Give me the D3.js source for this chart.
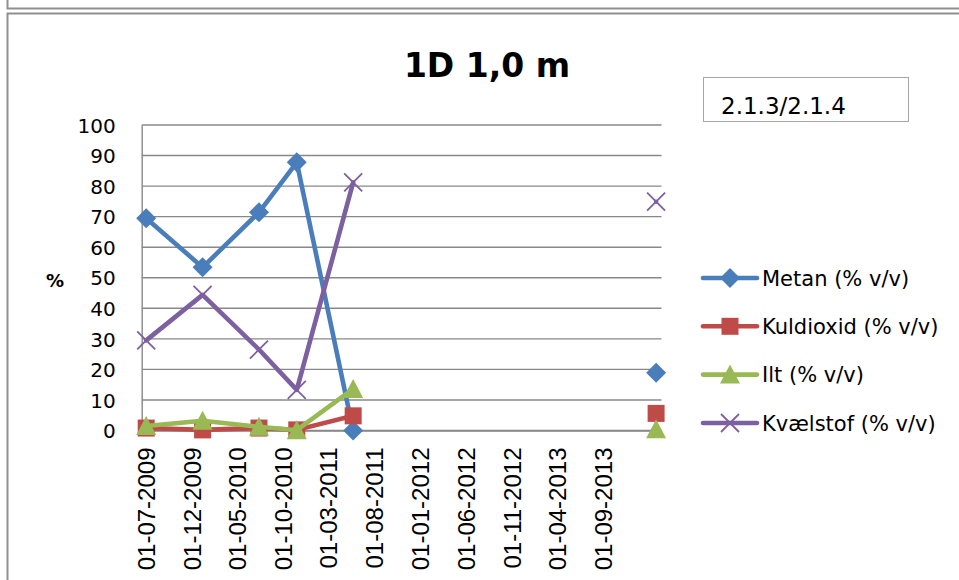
<!DOCTYPE html>
<html>
<head>
<meta charset="utf-8">
<script src="https://cdn.jsdelivr.net/npm/d3@7"></script>
<style>
  html, body { margin: 0; padding: 0; background: #fff; }
  svg { display: block; }
</style>
</head>
<body>
<svg id="chart" width="959" height="580"></svg>
<script>
// Sampling dates (null = blank row in the sheet, which breaks the lines)
const sampleDates = ["2009-07-02", "2010-01-06", "2010-07-13", "2010-11-16", "2011-05-23", null, "2014-02-26"];

// Gas concentrations, % v/v
const metan     = [69.5, 53.4, 71.4, 87.8, 0.0, null, 18.9];
const kuldioxid = [0.8, 0.2, 0.8, 0.2, 4.8, null, 5.6];
const ilt       = [1.5, 3.2, 1.2, 0.1, 13.6, null, 0.4];
const kvaelstof = [29.5, 44.4, 26.5, 13.3, 81.2, null, 74.9];

const seriesNames = ["Metan (% v/v)", "Kuldioxid (% v/v)", "Ilt (% v/v)", "Kvælstof (% v/v)"];
const seriesColors = ["#4A7EBB", "#BE4B48", "#98B954", "#7D60A0"];
const seriesMarkers = ["diamond", "square", "triangle", "cross"];

// Axis settings
const xAxisStart = "2009-06-17";
const xAxisEnd = "2014-03-16";
const xTickLabels = ["01-07-2009", "01-12-2009", "01-05-2010", "01-10-2010", "01-03-2011", "01-08-2011",
                     "01-01-2012", "01-06-2012", "01-11-2012", "01-04-2013", "01-09-2013"];
const yTicks = [0, 10, 20, 30, 40, 50, 60, 70, 80, 90, 100];

const chartTitle = "1D 1,0 m";
const noteText = "2.1.3/2.1.4";
const yAxisTitle = "%";

const svg = d3.select("#chart");
const parseISO = d3.timeParse("%Y-%m-%d");
const parseLabel = d3.timeParse("%d-%m-%Y");
const fmtLabel = d3.timeFormat("%d-%m-%Y");

const plot = { left: 141.7, right: 661.5, top: 125, bottom: 430.5 };

const x = d3.scaleTime()
  .domain([parseISO(xAxisStart), parseISO(xAxisEnd)])
  .range([plot.left, plot.right]);
const y = d3.scaleLinear().domain([0, 100]).range([plot.bottom, plot.top]);

// Frames around the chart object
const frame = "#8f8f8f";
svg.append("path").attr("d", "M7.5,0 V8.5 H959").attr("fill", "none").attr("stroke", frame).attr("stroke-width", 2);
svg.append("path").attr("d", "M7.5,580 V13.5 H959").attr("fill", "none").attr("stroke", frame).attr("stroke-width", 2);

// Title
svg.append("text")
  .attr("x", 487).attr("y", 77)
  .attr("text-anchor", "middle")
  .attr("font-family", "DejaVu Sans")
  .attr("font-weight", "bold")
  .attr("font-size", 33)
  .attr("fill", "#000")
  .text(chartTitle);

// Note box
svg.append("rect")
  .attr("x", 703.5).attr("y", 77.5).attr("width", 205).attr("height", 44)
  .attr("fill", "#fff").attr("stroke", "#a6a6a6").attr("stroke-width", 1);
svg.append("text")
  .attr("x", 721).attr("y", 114)
  .attr("font-family", "DejaVu Sans")
  .attr("font-size", 23)
  .attr("fill", "#000")
  .text(noteText);

// Horizontal gridlines
svg.append("g")
  .selectAll("line")
  .data(yTicks)
  .join("line")
  .attr("x1", plot.left).attr("x2", plot.right)
  .attr("y1", d => y(d)).attr("y2", d => y(d))
  .attr("stroke", "#888").attr("stroke-width", 1.4);

// Y axis
const yAxis = d3.axisLeft(y).tickValues(yTicks).tickSize(0).tickPadding(26);
const gy = svg.append("g").attr("transform", `translate(${plot.left},0)`).call(yAxis);
gy.select(".domain").attr("stroke", "#888").attr("stroke-width", 1.4);
gy.selectAll("text")
  .attr("font-family", "DejaVu Sans")
  .attr("font-size", 20)
  .attr("fill", "#000")
  .attr("dy", "0.36em");

// Y axis title
svg.append("text")
  .attr("x", 55).attr("y", 287)
  .attr("text-anchor", "middle")
  .attr("font-family", "DejaVu Sans")
  .attr("font-weight", "bold")
  .attr("font-size", 18)
  .text(yAxisTitle);

// X axis with date labels
const xTicks = xTickLabels.map(parseLabel);
const xAxis = d3.axisBottom(x).tickValues(xTicks).tickFormat(fmtLabel).tickSize(0).tickPadding(0);
const gx = svg.append("g").attr("transform", `translate(0,${plot.bottom})`).call(xAxis);
gx.select(".domain").attr("stroke", "#888").attr("stroke-width", 1.4);
gx.selectAll("text")
  .attr("font-family", "Liberation Sans")
  .attr("font-size", 24)
  .attr("fill", "#000")
  .attr("text-anchor", "end")
  .attr("transform", "rotate(-90)")
  .attr("x", -17)
  .attr("y", 0)
  .attr("dy", "0.36em");

// Marker shapes
function markerPath(kind) {
  switch (kind) {
    case "diamond": return "M0,-10 L10,0 L0,10 L-10,0 Z";
    case "square": return "M-8.5,-8.5 H8.5 V8.5 H-8.5 Z";
    case "triangle": return "M0,-10 L10,9 L-10,9 Z";
    case "cross": return "M-9,-9 L9,9 M-9,9 L9,-9";
  }
}
function drawMarker(g, kind, color) {
  const p = g.append("path").attr("d", markerPath(kind));
  if (kind === "cross") p.attr("fill", "none").attr("stroke", color).attr("stroke-width", 1.8);
  else p.attr("fill", color).attr("stroke", "none");
}

const allSeries = [metan, kuldioxid, ilt, kvaelstof];
const dates = sampleDates.map(d => d ? parseISO(d) : null);

const line = d3.line()
  .defined(d => d.v !== null && d.date !== null)
  .x(d => x(d.date))
  .y(d => y(d.v));

allSeries.forEach((vals, i) => {
  const pts = vals.map((v, j) => ({ date: dates[j], v }));
  const g = svg.append("g");
  g.append("path")
    .datum(pts)
    .attr("d", line)
    .attr("fill", "none")
    .attr("stroke", seriesColors[i])
    .attr("stroke-width", 4.6)
    .attr("stroke-linejoin", "round")
    .attr("stroke-linecap", "round");
  pts.filter(p => p.v !== null && p.date !== null).forEach(p => {
    const m = g.append("g").attr("transform", `translate(${x(p.date)},${y(p.v)})`);
    drawMarker(m, seriesMarkers[i], seriesColors[i]);
  });
});

// Legend
const legendRows = [278, 326.3, 374.6, 423];
seriesNames.forEach((name, i) => {
  const g = svg.append("g").attr("transform", `translate(0,${legendRows[i]})`);
  g.append("line").attr("x1", 703).attr("x2", 757).attr("y1", 0).attr("y2", 0)
    .attr("stroke", seriesColors[i]).attr("stroke-width", 4.6).attr("stroke-linecap", "round");
  const m = g.append("g").attr("transform", "translate(730,0)");
  drawMarker(m, seriesMarkers[i], seriesColors[i]);
  g.append("text")
    .attr("x", 762).attr("y", 0).attr("dy", "0.36em")
    .attr("font-family", "DejaVu Sans")
    .attr("font-size", 21)
    .attr("fill", "#000")
    .text(name);
});
</script>
</body>
</html>
